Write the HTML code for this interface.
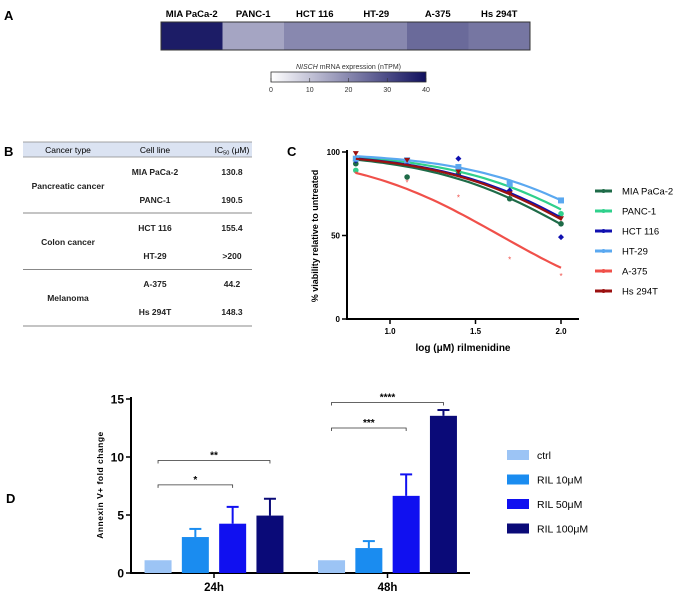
<!DOCTYPE html>
<html><head><meta charset="utf-8"><style>
body{margin:0;background:#fff;}
svg{display:block;font-family:"Liberation Sans",Arial,sans-serif;}
.b{font-weight:bold;}
</style></head><body>
<svg id="fig" width="683" height="594" viewBox="0 0 683 594" xmlns="http://www.w3.org/2000/svg">
<text x="4" y="20" font-size="13" class="b">A</text>
<g id="pa"></g>
<text x="4" y="156" font-size="13" class="b">B</text>
<g id="pb"></g>
<text x="287" y="156" font-size="13" class="b">C</text>
<g id="pc"></g>
<text x="6" y="503" font-size="13" class="b">D</text>
<g id="pd"></g>
</svg>
<script>
// ---- Panel A data
const heatLines = ["MIA PaCa-2","PANC-1","HCT 116","HT-29","A-375","Hs 294T"];
const heatValues = [38, 15, 20, 20, 25, 23];
const cbTicks = [0,10,20,30,40];
// ---- Panel B data
const tblTypes = ["Pancreatic cancer","Colon cancer","Melanoma"];
const tblLines = ["MIA PaCa-2","PANC-1","HCT 116","HT-29","A-375","Hs 294T"];
const tblIC50 = ["130.8","190.5","155.4",">200","44.2","148.3"];
// ---- Panel C data
const cSeries = ["MIA PaCa-2","PANC-1","HCT 116","HT-29","A-375","Hs 294T"];
const cDoses = [0.8,1.1,1.4,1.7,2.0];
const cMIA = [93,85,87,72,57];
const cPANC = [89,95,89,82,63];
const cHCT = [95,94,96,77,49];
const cHT29 = [96,95,91,81,71];
const cA375 = [87,82,73,36,26];
const cHs = [99,95,88,75,60];
const cLogIC50 = [2.117,2.28,2.19,2.39,1.645,2.171];
const cXTicks = [1.0,1.5,2.0];
const cYTicks = [0,50,100];
// ---- Panel D data
const dGroups = ["24h","48h"];
const dConds = ["ctrl","RIL 10\u03bcM","RIL 50\u03bcM","RIL 100\u03bcM"];
const d24 = [1.1,3.1,4.25,4.95];
const d24err = [0,0.7,1.45,1.45];
const d48 = [1.1,2.15,6.65,13.55];
const d48err = [0,0.6,1.85,0.5];
const dYTicks = [0,5,10,15];
const dSig = [["*",0,0,1,2,7.6],["**",0,0,1,3,9.7],["***",1,0,1,2,12.5],["****",1,0,1,3,14.7]];

const NS="http://www.w3.org/2000/svg";
function mk(p,t,a,txt){const e=document.createElementNS(NS,t);for(const k in a)e.setAttribute(k,a[k]);if(txt!==undefined)e.textContent=txt;p.appendChild(e);return e;}
function mix(v){const t=Math.max(0,Math.min(1,v/40));const c=[16,16,94];return `rgb(${Math.round(255+(c[0]-255)*t)},${Math.round(255+(c[1]-255)*t)},${Math.round(255+(c[2]-255)*t)})`;}

// Panel A
const pa=document.getElementById('pa');
const hx0=161,hx1=530,hy0=22,hy1=50,cw=(hx1-hx0)/heatLines.length;
heatLines.forEach((n,i)=>{
 const r=mk(pa,'rect',{x:hx0+i*cw,y:hy0,width:cw+0.5,height:hy1-hy0,fill:mix(heatValues[i])});
 
 
 const t=mk(pa,'text',{x:hx0+(i+0.5)*cw,y:17,'font-size':9.5,'text-anchor':'middle',class:'b'},n);
 
 
});
mk(pa,'rect',{x:hx0,y:hy0,width:hx1-hx0,height:hy1-hy0,fill:'none',stroke:'#333','stroke-width':1});
const defs=mk(pa,'defs',{});const lg=mk(defs,'linearGradient',{id:'cb'});
mk(lg,'stop',{offset:'0',  'stop-color':'#fff'});mk(lg,'stop',{offset:'1','stop-color':mix(40)});
const cbx0=271,cbx1=426;
const cbs=mk(pa,'rect',{x:cbx0,y:72,width:cbx1-cbx0,height:10,fill:'url(#cb)',stroke:'#333','stroke-width':0.8});


const cbt=mk(pa,'text',{x:(cbx0+cbx1)/2,y:69,'font-size':7,'text-anchor':'middle',fill:'#333'});


mk(cbt,'tspan',{'font-style':'italic'},'NISCH');mk(cbt,'tspan',{},' mRNA expression (nTPM)');
cbTicks.forEach(v=>{const x=cbx0+(cbx1-cbx0)*v/40;mk(pa,'line',{x1:x,x2:x,y1:78,y2:82,stroke:'#333','stroke-width':0.6});
 const t=mk(pa,'text',{x:x,y:92,'font-size':7,'text-anchor':'middle',fill:'#333'},v);
 
 });

// Panel B
const pb=document.getElementById('pb');
mk(pb,'rect',{x:23,y:142,width:229,height:15,fill:'#dbe3f2'});
mk(pb,'line',{x1:23,x2:252,y1:142,y2:142,stroke:'#888','stroke-width':0.8});
mk(pb,'line',{x1:23,x2:252,y1:157,y2:157,stroke:'#888','stroke-width':0.8});
[["Cancer type",68],["Cell line",155]].forEach(([s,x])=>{const t=mk(pb,'text',{x:x,y:153,'font-size':8.5,'text-anchor':'middle'},s);
 });
const ich=mk(pb,'text',{x:232,y:153,'font-size':8.5,'text-anchor':'middle'});

mk(ich,'tspan',{},'IC');mk(ich,'tspan',{'font-size':5.5,dy:1.5},'50');mk(ich,'tspan',{dy:-1.5},' (\u03bcM)');
tblLines.forEach((n,i)=>{const y=175+i*28;
 const a=mk(pb,'text',{x:155,y:y,'font-size':8.5,'text-anchor':'middle',class:'b',fill:'#222'},n);
 
 const b=mk(pb,'text',{x:232,y:y,'font-size':8.5,'text-anchor':'middle',class:'b',fill:'#222'},tblIC50[i]);
 });
tblTypes.forEach((n,i)=>{const t=mk(pb,'text',{x:68,y:189+i*56,'font-size':8.5,'text-anchor':'middle',class:'b',fill:'#222'},n);
 
 mk(pb,'line',{x1:23,x2:252,y1:213+i*56.5,y2:213+i*56.5,stroke:'#888','stroke-width':0.9});});

// Panel C
const pc=document.getElementById('pc');
const cx=v=>390+(v-1.0)*(561-390);
const cy=v=>319-v*(319-152)/100;
const cCols=['#1e6b48','#2fd08c','#1010b0','#5aa8f0','#f0504a','#9b1010'];
const cData=[cMIA,cPANC,cHCT,cHT29,cA375,cHs];
mk(pc,'line',{x1:347,x2:347,y1:150,y2:320,stroke:'#000','stroke-width':2});
mk(pc,'line',{x1:346,x2:579,y1:319,y2:319,stroke:'#000','stroke-width':2});
cYTicks.forEach(v=>{mk(pc,'line',{x1:342,x2:347,y1:cy(v),y2:cy(v),stroke:'#000','stroke-width':1.5});
 const t=mk(pc,'text',{x:340,y:cy(v)+3,'font-size':8,'text-anchor':'end',class:'b'},v);
 });
cXTicks.forEach(v=>{mk(pc,'line',{x1:cx(v),x2:cx(v),y1:319,y2:324,stroke:'#000','stroke-width':1.5});
 const t=mk(pc,'text',{x:cx(v),y:334,'font-size':8,'text-anchor':'middle',class:'b'},v.toFixed(1));
 });
const cxt=mk(pc,'text',{x:463,y:351,'font-size':10,'text-anchor':'middle',class:'b'},'log (\u03bcM) rilmenidine');

const cyt=mk(pc,'text',{x:0,y:0,'font-size':9,'text-anchor':'middle',class:'b',transform:'translate(318,236) rotate(-90)'},'% viability relative to untreated');

cSeries.forEach((n,s)=>{
 let d='';for(let k=0;k<=40;k++){const x=0.8+1.2*k/40;const y=100/(1+Math.pow(10,x-cLogIC50[s]));d+=(k?'L':'M')+cx(x).toFixed(1)+' '+cy(y).toFixed(1);}
 const p=mk(pc,'path',{d:d,fill:'none',stroke:cCols[s],'stroke-width':2.2});
 
 
 cDoses.forEach((x,i)=>{const px=cx(x),py=cy(cData[s][i]);let m;
  if(s===4)m=mk(pc,'text',{x:px,y:py+3.5,'font-size':8,'text-anchor':'middle',fill:cCols[s]},'*');
  else if(s===2)m=mk(pc,'path',{d:`M${px} ${py-3}L${px+3} ${py}L${px} ${py+3}L${px-3} ${py}Z`,fill:cCols[s]});
  else if(s===3)m=mk(pc,'rect',{x:px-3,y:py-3,width:6,height:6,fill:cCols[s]});
  else if(s===5)m=mk(pc,'path',{d:`M${px-3} ${py-2.5}L${px+3} ${py-2.5}L${px} ${py+2.5}Z`,fill:cCols[s]});
  else m=mk(pc,'circle',{cx:px,cy:py,r:2.8,fill:cCols[s]});
  });
 const ly=191+s*20;
 const g=mk(pc,'g',{});
 
 mk(g,'line',{x1:595,x2:612,y1:ly,y2:ly,stroke:cCols[s],'stroke-width':3});
 mk(g,'circle',{cx:603.5,cy:ly,r:2,fill:cCols[s]});
 mk(g,'text',{x:622,y:ly+3.5,'font-size':9.5},n);
});

// Panel D
const pd=document.getElementById('pd');
const dy=v=>573-v*(573-399)/15;
const dCols=['#9cc4f5','#1a8cf0','#1010f0','#0a0a78'];
const dGroupX=[214,387.5];
const dStep=37.3;
const dCenter=(g,i)=>dGroupX[g]+(i-1.5)*dStep;
const bw=27;
mk(pd,'line',{x1:131,x2:131,y1:397,y2:574,stroke:'#000','stroke-width':2});
mk(pd,'line',{x1:130,x2:470,y1:573,y2:573,stroke:'#000','stroke-width':2});
dYTicks.forEach(v=>{mk(pd,'line',{x1:126,x2:131,y1:dy(v),y2:dy(v),stroke:'#000','stroke-width':1.5});
 const t=mk(pd,'text',{x:124,y:dy(v)+4.5,'font-size':12,'text-anchor':'end',class:'b'},v);
 });
const dyt=mk(pd,'text',{x:0,y:0,'font-size':8.5,'text-anchor':'middle',class:'b',transform:'translate(103,485) rotate(-90)','letter-spacing':'0.5'},'Annexin V+ fold change');

[d24,d48].forEach((vals,g)=>{const errs=g?d48err:d24err;
 vals.forEach((v,i)=>{const x=dCenter(g,i);
  if(errs[i]>0){mk(pd,'line',{x1:x,x2:x,y1:dy(v),y2:dy(v+errs[i]),stroke:dCols[i],'stroke-width':2});
   mk(pd,'line',{x1:x-6,x2:x+6,y1:dy(v+errs[i]),y2:dy(v+errs[i]),stroke:dCols[i],'stroke-width':2});}
  const r=mk(pd,'rect',{x:x-bw/2,y:dy(v),width:bw,height:573-dy(v),fill:dCols[i]});
  });
 mk(pd,'line',{x1:dGroupX[g],x2:dGroupX[g],y1:573,y2:578,stroke:'#000','stroke-width':1.5});
 const t=mk(pd,'text',{x:dGroupX[g],y:591,'font-size':11.5,'text-anchor':'middle',class:'b'},dGroups[g]);
 });
dSig.forEach(([s,g,_,a,b,v])=>{const x1=dCenter(g,0),x2=dCenter(g,b),y=dy(v);
 const gg=mk(pd,'g',{});
 
 mk(gg,'path',{d:`M${x1} ${y+3}V${y}H${x2}V${y+3}`,fill:'none',stroke:'#333','stroke-width':0.8});
 mk(gg,'text',{x:(x1+x2)/2,y:y-2,'font-size':10,'text-anchor':'middle',class:'b'},s);});
dConds.forEach((n,i)=>{const y=455+i*24.5;
 const g=mk(pd,'g',{});
 
 mk(g,'rect',{x:507,y:y-5,width:22,height:10,fill:dCols[i]});
 mk(g,'text',{x:537,y:y+4,'font-size':10.5},n);});
</script>
</body></html>
